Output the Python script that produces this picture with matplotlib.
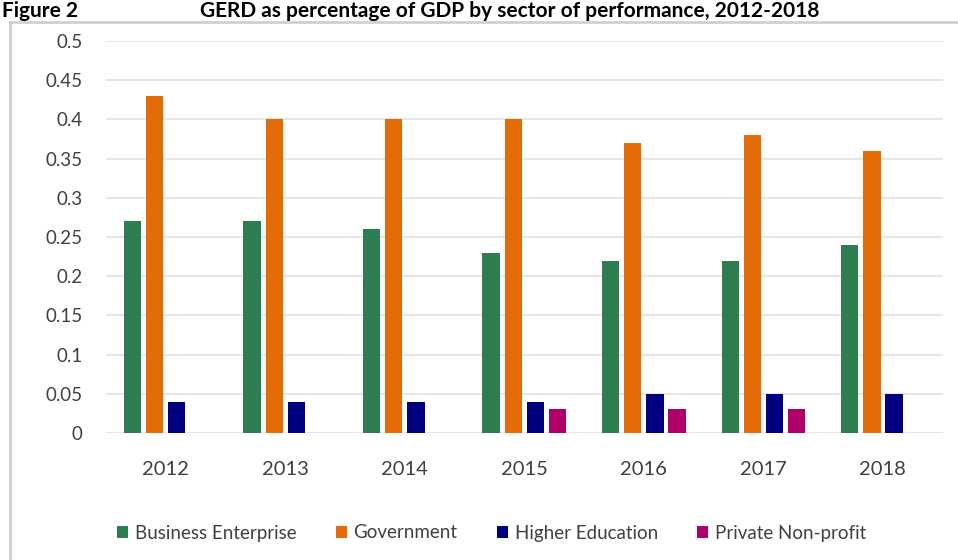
import matplotlib.pyplot as plt
import numpy as np

plt.rcParams['font.family'] = ['Lato', 'DejaVu Sans']

years = ['2012', '2013', '2014', '2015', '2016', '2017', '2018']
business = [0.27, 0.27, 0.26, 0.23, 0.22, 0.22, 0.24]
government = [0.43, 0.40, 0.40, 0.40, 0.37, 0.38, 0.36]
higher_edu = [0.04, 0.04, 0.04, 0.04, 0.05, 0.05, 0.05]
private_np = [0, 0, 0, 0.03, 0.03, 0.03, 0]

series = [
    ('Business Enterprise', business, '#2E7D50'),
    ('Government', government, '#E36C09'),
    ('Higher Education', higher_edu, '#000080'),
    ('Private Non-profit', private_np, '#B0006A'),
]

fig = plt.figure(figsize=(9.58, 5.6), dpi=100)
ax = fig.add_axes([0.1106, 0.2268, 0.984 - 0.1106, 0.7])

x = np.arange(len(years))
w = 0.145
step = 0.185
for i, (name, vals, col) in enumerate(series):
    ax.bar(x + (i - 1.5) * step, vals, width=w, color=col, label=name, zorder=3)

ax.set_xlim(-0.5, len(years) - 0.5)
ax.set_ylim(0, 0.5)
ax.set_yticks(np.arange(0, 0.51, 0.05))
ax.set_yticklabels(['0', '0.05', '0.1', '0.15', '0.2', '0.25', '0.3', '0.35', '0.4', '0.45', '0.5'])
ax.set_xticks(x)
ax.set_xticklabels(years)
ax.grid(axis='y', color='#e2e2e2', lw=1.2, zorder=0)
for s in ax.spines.values():
    s.set_visible(False)
ax.tick_params(axis='y', length=0, pad=17, labelsize=13.5, labelcolor='#404040')
ax.tick_params(axis='x', length=0, pad=20, labelsize=14.5, labelcolor='#404040')

# chart frame (top and left edges visible)
fy = 1 - 22 / 560
fig.add_artist(plt.Line2D([10 / 958, 1], [fy, fy], color='#d0d0d0', lw=2))
fig.add_artist(plt.Line2D([10 / 958, 10 / 958], [0, fy], color='#d0d0d0', lw=2))

# title
fig.text(0.002, 0.998, 'Figure 2', fontsize=15, fontweight='bold', va='top', ha='left')
fig.text(200 / 958, 0.998, 'GERD as percentage of GDP by sector of performance, 2012-2018',
         fontsize=15, fontweight='bold', va='top', ha='left')

fig.legend(loc='center', bbox_to_anchor=(0.513, 1 - 533 / 560), ncol=4, frameon=False,
           handlelength=0.6, handleheight=0.6, handletextpad=0.35, columnspacing=2.1,
           fontsize=13.5, labelcolor='#404040')

fig.savefig('out.png', dpi=100)
